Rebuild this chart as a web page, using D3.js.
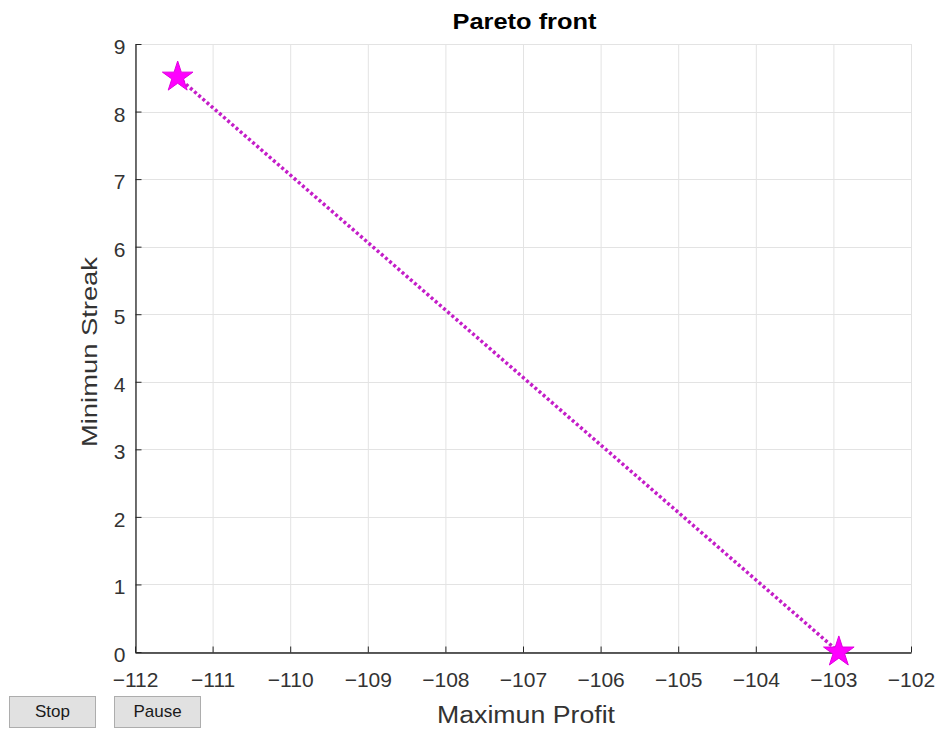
<!DOCTYPE html>
<html>
<head>
<meta charset="utf-8">
<script src="https://cdn.jsdelivr.net/npm/d3@7"></script>
<style>
  html, body { margin: 0; padding: 0; background: #fff; }
  svg { display: block; }
  .btn { position: absolute; top: 696px; height: 32px; background: #e1e1e1; border: 1px solid #adadad;
         box-sizing: border-box; font: 17px "Liberation Sans", Arial, sans-serif; color: #1a1a1a;
         display: flex; align-items: center; justify-content: center; }
</style>
</head>
<body>
<div id="chart"></div>
<div class="btn" style="left:9px;width:87px;">Stop</div>
<div class="btn" style="left:114px;width:87px;">Pause</div>
<script>
// Pareto front points: (profit, streak)
const profit = [-111.45, -102.93];
const streak = [8.51, 0];
const xTicks = [-112, -111, -110, -109, -108, -107, -106, -105, -104, -103, -102];
const yTicks = [0, 1, 2, 3, 4, 5, 6, 7, 8, 9];

const W = 939, H = 729;
const m = { left: 135, right: 28, top: 44, bottom: 77 };

const svg = d3.select("#chart").append("svg").attr("width", W).attr("height", H);

const x = d3.scaleLinear().domain([-112, -102]).range([m.left, W - m.right]);
const y = d3.scaleLinear().domain([0, 9]).range([H - m.bottom, m.top]);

const font = '"Liberation Sans", Arial, sans-serif';
const minus = d => String(d).replace("-", "\u2212");

// grid
const grid = svg.append("g").attr("stroke", "#e3e3e3").attr("stroke-width", 1);
grid.selectAll(".gx").data(xTicks).join("line")
  .attr("x1", d => x(d) + 0.5).attr("x2", d => x(d) + 0.5)
  .attr("y1", y(0)).attr("y2", y(9));
grid.selectAll(".gy").data(yTicks).join("line")
  .attr("y1", d => Math.round(y(d)) + 0.5).attr("y2", d => Math.round(y(d)) + 0.5)
  .attr("x1", x(-112)).attr("x2", x(-102));

// axes with inward ticks
const xAxis = svg.append("g").attr("transform", `translate(0,${Math.round(y(0)) + 0.5})`)
  .call(d3.axisBottom(x).tickValues(xTicks).tickSizeInner(-6).tickSizeOuter(0).tickPadding(20).tickFormat(minus));
const yAxis = svg.append("g").attr("transform", `translate(${Math.round(x(-112)) + 0.5},0)`)
  .call(d3.axisLeft(y).tickValues(yTicks).tickSizeInner(-6).tickSizeOuter(0).tickPadding(10));

[xAxis, yAxis].forEach(a => {
  a.select(".domain").attr("stroke", "#262626").attr("stroke-width", 1.3);
  a.selectAll(".tick line").attr("stroke", "#262626");
  a.selectAll(".tick text").attr("fill", "#333").style("font-family", font).style("font-size", "21px");
});
yAxis.selectAll(".tick text").attr("dy", "0.45em");

// front line
svg.append("path")
  .datum(profit.map((p, i) => [p, streak[i]]))
  .attr("fill", "none")
  .attr("stroke", "#c41ec8")
  .attr("stroke-width", 3.5)
  .attr("stroke-dasharray", "3 2.5")
  .attr("d", d3.line().x(d => x(d[0])).y(d => y(d[1])));

// star markers
svg.selectAll(".pt").data(profit).join("path")
  .attr("transform", (d, i) => `translate(${x(d)},${y(streak[i])})`)
  .attr("d", d3.symbol(d3.symbolStar, 290))
  .attr("fill", "#ff00ff")
  .attr("stroke", "#e000e0").attr("stroke-width", 1);

// labels
svg.append("text").attr("x", 524.5).attr("y", 29)
  .attr("text-anchor", "middle").style("font-family", font).style("font-size", "22px")
  .attr("textLength", 144).attr("lengthAdjust", "spacingAndGlyphs")
  .style("font-weight", "bold").attr("fill", "#000").text("Pareto front");
svg.append("text").attr("x", 526).attr("y", 723)
  .attr("text-anchor", "middle").style("font-family", font).style("font-size", "23px")
  .attr("textLength", 178).attr("lengthAdjust", "spacingAndGlyphs")
  .attr("fill", "#333").text("Maximun Profit");
svg.append("text").attr("transform", `translate(97,352) rotate(-90)`)
  .attr("text-anchor", "middle").style("font-family", font).style("font-size", "22px")
  .attr("textLength", 190).attr("lengthAdjust", "spacingAndGlyphs")
  .attr("fill", "#333").text("Minimun Streak");
</script>
</body>
</html>
